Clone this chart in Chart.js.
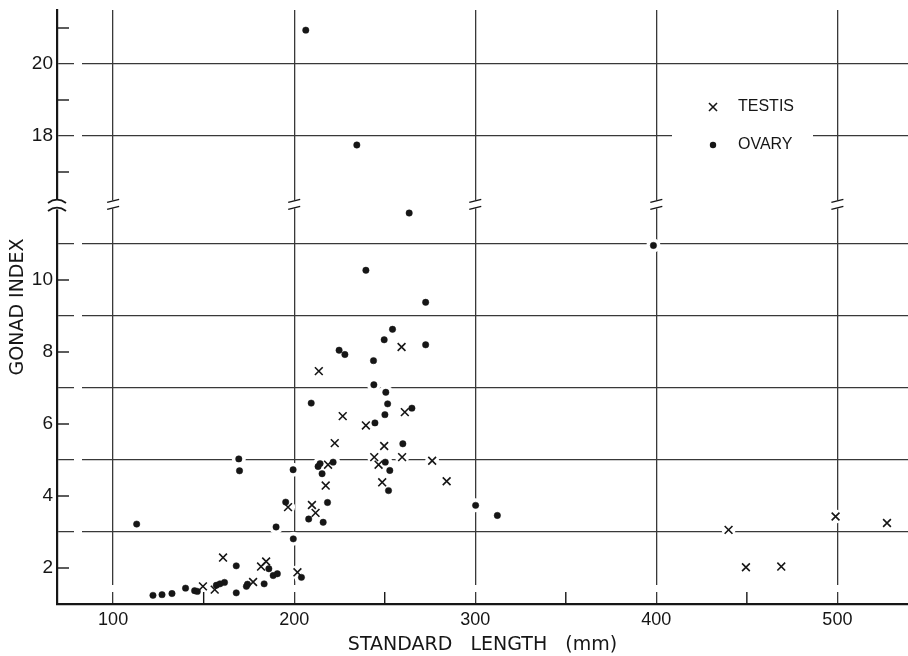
<!DOCTYPE html>
<html>
<head>
<meta charset="utf-8">
<script src="https://cdn.jsdelivr.net/npm/chart.js@4.4.1/dist/chart.umd.min.js"></script>
<style>
  html, body { margin: 0; padding: 0; background: #fff; }
</style>
</head>
<body>
<canvas id="chart-canvas" width="908" height="656"></canvas>
<script>
// readings: standard length (mm) against gonad index
var testisLength = [149.6, 156.1, 160.7, 177.3, 181.7, 184.5, 196.6, 201.8, 209.8, 211.8,
                    213.6, 217.4, 218.7, 222.4, 226.8, 239.6, 244.2, 246.6, 248.6, 249.7,
                    259.3, 259.6, 261.1, 276.2, 284.2, 439.9, 449.5, 469.0, 499.0, 527.4];
var testisIndex  = [1.49, 1.40, 2.29, 1.61, 2.04, 2.18, 3.69, 1.88, 3.75, 3.53,
                    7.47, 4.29, 4.87, 5.47, 6.22, 5.96, 5.08, 4.87, 4.38, 5.39,
                    8.14, 5.08, 6.33, 4.98, 4.41, 3.06, 2.02, 2.04, 3.43, 3.25];

var ovaryLength = [113.0, 122.0, 127.0, 132.5, 140.0, 145.0, 146.5, 157.0, 159.0, 161.5,
                   168.0, 168.0, 169.4, 169.8, 173.6, 174.2, 183.4, 186.0, 188.4, 190.7,
                   190.0, 195.3, 199.4, 199.5, 204.0, 208.0, 209.4, 213.2, 214.3, 215.4,
                   216.0, 218.4, 221.5, 224.8, 228.0, 243.8, 244.0, 244.6, 249.7, 250.1,
                   250.3, 250.6, 251.6, 252.8, 252.1, 254.3, 260.0, 265.0, 272.6, 272.6,
                   239.6, 263.5, 300.2, 312.2, 398.4, 206.4, 234.6];
var ovaryIndex  = [3.22, 1.24, 1.26, 1.29, 1.44, 1.37, 1.35, 1.52, 1.56, 1.60,
                   2.06, 1.31, 5.03, 4.70, 1.49, 1.55, 1.56, 1.98, 1.79, 1.84,
                   3.14, 3.83, 4.73, 2.81, 1.74, 3.36, 6.58, 4.82, 4.90, 4.62,
                   3.27, 3.82, 4.94, 8.05, 7.93, 7.76, 7.09, 6.03, 8.34, 6.26,
                   4.94, 6.88, 6.56, 4.71, 4.15, 8.63, 5.45, 6.44, 9.38, 8.20,
                   10.27, 11.86, 3.74, 3.46, 10.96, 20.94, 17.75];

var xTickLabels = [100, 200, 300, 400, 500];
var xMinorTicks = [150, 250, 350, 450];
var yTickLabels = [2, 4, 6, 8, 10, 18, 20];
var yGridValues = [3, 5, 7, 9, 11, 18, 20];
var yMinorTicks = [2, 4, 6, 8, 10, 17, 19, 21];

// the y axis is broken: everything above the break is pulled down by 4
var breakAt = 12.1;
var breakShift = 4;
function toAxis(v) { return v > breakAt ? v - breakShift : v; }
function fromAxis(v) { return v > breakAt ? v + breakShift : v; }

var ink = '#161616';
var gridInk = '#383838';
var tickFont = '"Liberation Sans", Arial, sans-serif';
var titleFont = '"DejaVu Sans", sans-serif';

function points(xs, ys) {
    return xs.map(function (x, i) { return { x: x, y: toAxis(ys[i]) }; });
}

var yAxisTicks = [];
yTickLabels.concat(yGridValues, yMinorTicks).forEach(function (v) {
    var d = toAxis(v);
    if (yAxisTicks.indexOf(d) < 0) yAxisTicks.push(d);
});
yAxisTicks.sort(function (a, b) { return a - b; });
var xAxisTicks = xTickLabels.concat(xMinorTicks).sort(function (a, b) { return a - b; });

// hand drawn look: gaps in the ruling, inward ticks, break marks and the key
var paperTricks = {
    id: 'paperTricks',
    beforeDatasetsDraw: function (chart) {
        var c = chart.ctx, a = chart.chartArea;
        c.save();
        c.fillStyle = '#fff';
        c.fillRect(a.left + 17, a.top, 8, a.bottom - a.top - 3);
        c.fillRect(a.left + 3, a.bottom - 19, a.right - a.left, 7);
        c.fillRect(672, 88, 141, 74);
        c.restore();
    },
    afterDatasetsDraw: function (chart) {
        var c = chart.ctx, a = chart.chartArea;
        var xs = chart.scales.x, ys = chart.scales.y;
        c.save();
        c.strokeStyle = ink;
        c.lineWidth = 1.4;

        yMinorTicks.forEach(function (v) {
            var py = ys.getPixelForValue(toAxis(v));
            c.beginPath(); c.moveTo(a.left, py); c.lineTo(a.left + 12, py); c.stroke();
        });
        xMinorTicks.forEach(function (v) {
            var px = xs.getPixelForValue(v);
            c.beginPath(); c.moveTo(px, a.bottom); c.lineTo(px, a.bottom - 12); c.stroke();
        });

        var pb = ys.getPixelForValue(breakAt);
        xTickLabels.forEach(function (v) {
            var px = xs.getPixelForValue(v);
            c.fillStyle = '#fff';
            c.fillRect(px - 3, pb - 4, 6, 8);
            [-3.5, 3.5].forEach(function (off) {
                c.beginPath();
                c.moveTo(px - 6, pb + off + 1.5);
                c.lineTo(px + 6, pb + off - 1.5);
                c.stroke();
            });
        });
        c.fillStyle = '#fff';
        c.fillRect(a.left - 3, pb - 5, 6, 10);
        c.lineWidth = 1.8;
        [-4, 4].forEach(function (off) {
            c.beginPath();
            c.moveTo(a.left - 9, pb + off + 2.5);
            c.quadraticCurveTo(a.left, pb + off - 4, a.left + 9, pb + off + 2.5);
            c.stroke();
        });

        // key
        c.lineWidth = 1.6;
        c.beginPath();
        c.moveTo(709, 103); c.lineTo(717, 111);
        c.moveTo(717, 103); c.lineTo(709, 111);
        c.stroke();
        c.fillStyle = ink;
        c.beginPath(); c.arc(713, 145, 3.2, 0, Math.PI * 2); c.fill();
        c.font = '16px ' + tickFont;
        c.textBaseline = 'middle';
        c.fillText('TESTIS', 738, 107);
        c.fillText('OVARY', 738, 145);
        c.restore();
    }
};

var config = {
    type: 'scatter',
    data: {
        datasets: [{
            label: 'TESTIS',
            data: points(testisLength, testisIndex),
            pointStyle: 'crossRot',
            pointRadius: 5.5,
            borderColor: ink,
            borderWidth: 1.6,
            order: 1
        }, {
            label: 'OVARY',
            data: points(ovaryLength, ovaryIndex),
            pointStyle: 'circle',
            pointRadius: 3.2,
            backgroundColor: ink,
            borderColor: ink,
            borderWidth: 0.5,
            order: 2
        }, {
            label: 'halo',
            data: points(testisLength, testisIndex).concat(points(ovaryLength, ovaryIndex)),
            pointRadius: 7,
            backgroundColor: '#fff',
            borderWidth: 0,
            order: 3
        }]
    },
    options: {
        responsive: false,
        animation: false,
        layout: { autoPadding: false, padding: { top: 10, right: 0, bottom: 0, left: 0 } },
        plugins: { legend: { display: false }, tooltip: { enabled: false } },
        scales: {
            x: {
                type: 'linear',
                min: 69,
                max: 539,
                afterBuildTicks: function (s) {
                    s.ticks = xAxisTicks.map(function (v) { return { value: v }; });
                },
                afterFit: function (s) {
                    s.height = 52;
                    s.paddingLeft = 0; s.paddingRight = 0;
                },
                grid: {
                    drawTicks: false,
                    lineWidth: 1.3,
                    color: function (ctx) {
                        return ctx.tick && xTickLabels.indexOf(ctx.tick.value) >= 0 ? gridInk : 'rgba(0,0,0,0)';
                    }
                },
                border: { display: true, color: ink, width: 2.2 },
                ticks: {
                    autoSkip: false,
                    maxRotation: 0,
                    padding: 5,
                    color: ink,
                    font: { family: tickFont, size: 18 },
                    callback: function (v) { return xTickLabels.indexOf(v) >= 0 ? String(v) : ''; }
                },
                title: {
                    display: true,
                    text: 'STANDARD   LENGTH   (mm)',
                    color: ink,
                    font: { family: titleFont, size: 19 },
                    padding: { top: 0, bottom: 0 }
                }
            },
            y: {
                type: 'linear',
                min: 1,
                max: 17.5,
                afterBuildTicks: function (s) {
                    s.ticks = yAxisTicks.map(function (v) { return { value: v }; });
                },
                afterFit: function (s) {
                    s.width = 57;
                    s.paddingTop = 0; s.paddingBottom = 0;
                },
                grid: {
                    drawTicks: false,
                    lineWidth: 1.3,
                    color: function (ctx) {
                        return ctx.tick && yGridValues.indexOf(fromAxis(ctx.tick.value)) >= 0 ? gridInk : 'rgba(0,0,0,0)';
                    }
                },
                border: { display: true, color: ink, width: 2.2 },
                ticks: {
                    autoSkip: false,
                    padding: 4,
                    color: ink,
                    font: { family: tickFont, size: 19 },
                    callback: function (v) {
                        var o = fromAxis(v);
                        return yTickLabels.indexOf(o) >= 0 ? String(o) : '';
                    }
                },
                title: {
                    display: true,
                    text: 'GONAD INDEX',
                    color: ink,
                    font: { family: titleFont, size: 19 },
                    padding: { top: 7, bottom: 0 }
                }
            }
        }
    },
    plugins: [paperTricks]
};

var chart = new Chart(document.getElementById('chart-canvas').getContext('2d'), config);
</script>
</body>
</html>
